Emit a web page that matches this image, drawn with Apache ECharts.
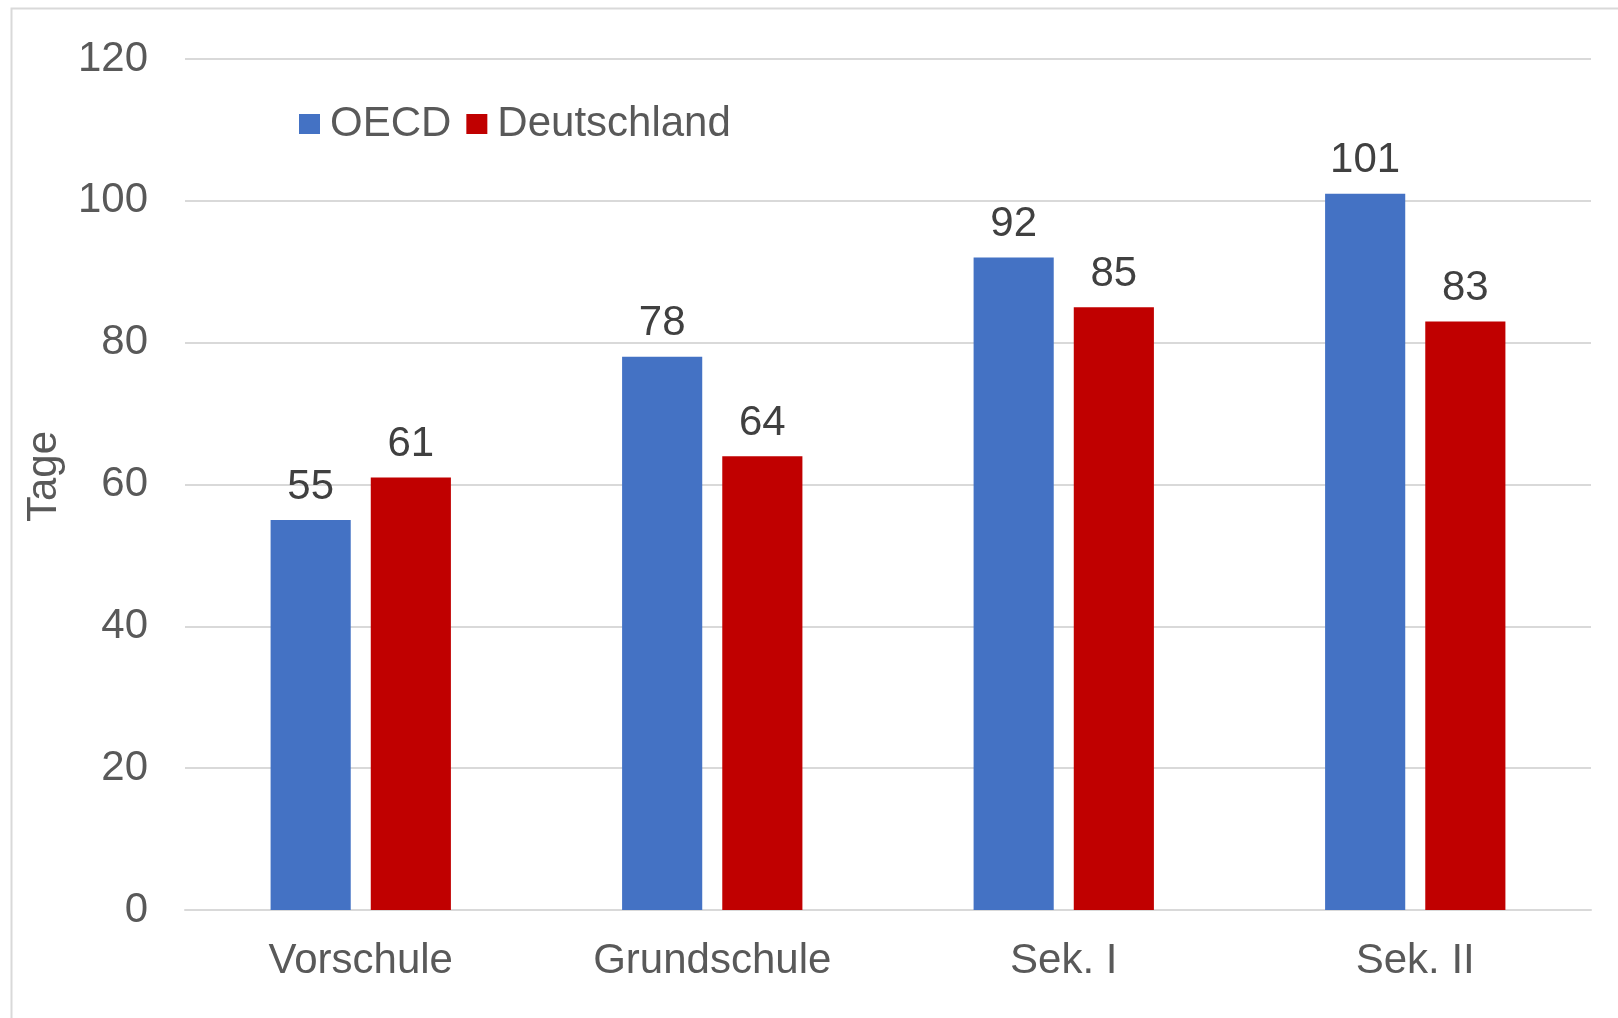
<!DOCTYPE html>
<html><head><meta charset="utf-8">
<script src="https://cdn.jsdelivr.net/npm/echarts@6/dist/echarts.min.js"></script>
<style>html,body{margin:0;padding:0;background:#fff}#c{width:1618px;height:1018px}</style>
</head><body><div id="c"></div>
<script>
const categories = ['Vorschule', 'Grundschule', 'Sek. I', 'Sek. II'];
const oecd = [55, 78, 92, 101];
const deutschland = [61, 64, 85, 83];
const yTicks = [0, 20, 40, 60, 80, 100, 120];

const font = '"Liberation Sans", Arial, sans-serif';
const chart = echarts.init(document.getElementById('c'));
chart.setOption({
  animation: false,
  backgroundColor: '#fff',
  textStyle: { fontFamily: font },
  graphic: [{
    type: 'rect', left: 9, top: 6,
    shape: { x: 0, y: 0, width: 1700, height: 1100 },
    style: { fill: 'none', stroke: '#d9d9d9', lineWidth: 2 },
    silent: true
  }],
  legend: {
    left: 294, top: 98,
    itemWidth: 21, itemHeight: 20, itemGap: 15,
    icon: 'rect',
    textStyle: { fontSize: 42, color: '#595959', fontFamily: font, padding: [0, 0, 0, 5] },
    data: ['OECD', 'Deutschland']
  },
  grid: { left: 185, right: 27, top: 59, bottom: 108 },
  xAxis: {
    type: 'category', data: categories,
    axisLine: { lineStyle: { color: '#d9d9d9', width: 2 } },
    axisTick: { show: false },
    axisLabel: { fontSize: 42, color: '#595959', margin: 30, fontFamily: font }
  },
  yAxis: {
    type: 'value', min: yTicks[0], max: yTicks[yTicks.length - 1], interval: 20,
    name: 'Tage', nameLocation: 'middle', nameGap: 120, nameRotate: 90,
    nameTextStyle: { fontSize: 42, color: '#595959', fontFamily: font, padding: [0, 0, 0, 16] },
    axisLine: { show: false }, axisTick: { show: false },
    splitLine: { lineStyle: { color: '#d9d9d9', width: 2 } },
    axisLabel: { fontSize: 42, color: '#595959', margin: 37, fontFamily: font }
  },
  series: [
    { name: 'OECD', type: 'bar', data: oecd, barWidth: '22.8%', barGap: '25%',
      itemStyle: { color: '#4472c4' },
      label: { show: true, position: 'top', distance: 12, fontSize: 42, color: '#404040', fontFamily: font } },
    { name: 'Deutschland', type: 'bar', data: deutschland, barWidth: '22.8%', barGap: '25%',
      itemStyle: { color: '#c00000' },
      label: { show: true, position: 'top', distance: 12, fontSize: 42, color: '#404040', fontFamily: font } }
  ]
});
</script></body></html>
